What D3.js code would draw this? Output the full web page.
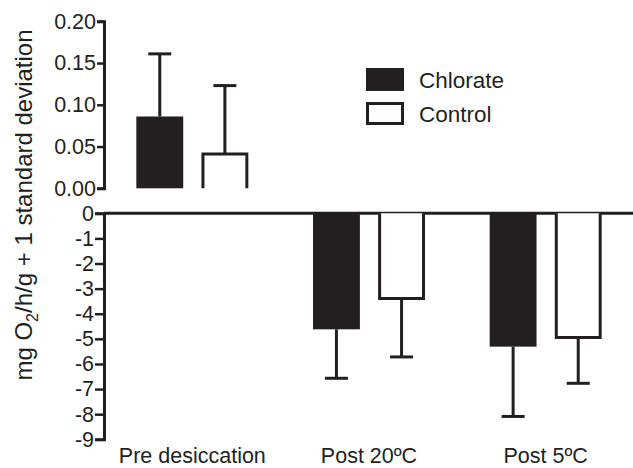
<!DOCTYPE html>
<html>
<head>
<meta charset="utf-8">
<script src="https://cdn.jsdelivr.net/npm/d3@7"></script>
<style>
  body { margin: 0; background: #fff; }
  text { font-family: "Liberation Sans", Arial, sans-serif; fill: #231f20; }
</style>
</head>
<body>
<div id="chart"></div>
<script>
// data
const groups = ["Pre desiccation", "Post 20ºC", "Post 5ºC"];
const series = ["Chlorate", "Control"];
const chlorateMean = [0.086, -4.62, -5.31];
const chlorateSD = [0.075, 1.95, 2.78];
const controlMean = [0.041, -3.39, -4.95];
const controlSD = [0.082, 2.33, 1.82];
const topTicks = [0, 0.05, 0.10, 0.15, 0.20];
const bottomTicks = [0, -1, -2, -3, -4, -5, -6, -7, -8, -9];

const width = 633, height = 468;
const ink = "#231f20";

const svg = d3.select("#chart").append("svg")
    .attr("width", width).attr("height", height);

let rows = [];
groups.forEach((g, i) => {
    rows.push({group: g, series: "Chlorate", mean: chlorateMean[i], sd: chlorateSD[i]});
    rows.push({group: g, series: "Control", mean: controlMean[i], sd: controlSD[i]});
});

let x0 = d3.scaleBand().domain(groups).range([104, 634])
    .paddingInner(0.366).paddingOuter(0.183);
let x1 = d3.scaleBand().domain(series).range([0, x0.bandwidth()]).paddingInner(0.28);

// two panels: positive values on top, negative values below
let yTop = d3.scaleLinear().domain([0, 0.20]).range([188.3, 21.3]);
let yBot = d3.scaleLinear().domain([-9, 0]).range([439.3, 213.3]);

let topAxis = svg.append("g").attr("transform", "translate(104,0)")
    .call(d3.axisLeft(yTop).tickValues(topTicks).tickFormat(d3.format(".2f")).tickSizeOuter(0).tickSize(7).tickPadding(1));
let botAxis = svg.append("g").attr("transform", "translate(104,0)")
    .call(d3.axisLeft(yBot).tickValues(bottomTicks).tickFormat(d3.format("d")).tickSizeOuter(0).tickSize(9).tickPadding(1));

[topAxis, botAxis].forEach(a => {
    a.select(".domain").attr("stroke", ink).attr("stroke-width", 3);
    a.selectAll(".tick line").attr("stroke", ink).attr("stroke-width", 2.5);
    a.selectAll(".tick text").style("font-size", "21.5px").attr("fill", ink)
        .style("font-family", "'Liberation Sans', Arial, sans-serif");
});
// minus sign as plain hyphen
botAxis.selectAll(".tick text").text(d => d3.format("d")(d).replace("−", "-"));

// zero line of bottom panel
svg.append("line")
    .attr("x1", 104).attr("x2", width)
    .attr("y1", yBot(0)).attr("y2", yBot(0))
    .attr("stroke", ink).attr("stroke-width", 3);

let capHalf = 11.5;

rows.forEach(d => {
    let y = d.mean >= 0 ? yTop : yBot;
    let bx = x0(d.group) + x1(d.series);
    let bw = x1.bandwidth();
    let cx = bx + bw / 2;
    let end = d.mean >= 0 ? d.mean + d.sd : d.mean - d.sd;

    // error bar
    svg.append("line")
        .attr("x1", cx).attr("x2", cx)
        .attr("y1", y(d.mean)).attr("y2", y(end))
        .attr("stroke", ink).attr("stroke-width", 3);
    svg.append("line")
        .attr("x1", cx - capHalf).attr("x2", cx + capHalf)
        .attr("y1", y(end)).attr("y2", y(end))
        .attr("stroke", ink).attr("stroke-width", 3);

    let top = Math.min(y(d.mean), y(0));
    let h = Math.abs(y(d.mean) - y(0));
    if (d.series === "Chlorate") {
        svg.append("rect")
            .attr("x", bx).attr("y", top).attr("width", bw).attr("height", h)
            .attr("fill", ink);
    } else {
        // open bar: sides and the far end, no line along zero
        let y0 = y(0), ym = y(d.mean);
        svg.append("path")
            .attr("d", `M${bx + 1.5},${y0} V${ym} H${bx + bw - 1.5} V${y0}`)
            .attr("fill", "#fff").attr("stroke", ink).attr("stroke-width", 3);
    }
});

// category labels
svg.selectAll(".xlab").data(groups).join("text")
    .attr("class", "xlab")
    .attr("x", d => x0(d) + x0.bandwidth() / 2)
    .attr("y", 463)
    .attr("text-anchor", "middle")
    .style("font-size", "21.5px")
    .text(d => d);

// y axis title
let yt = svg.append("text")
    .attr("transform", "translate(32,205) rotate(-90)")
    .attr("text-anchor", "middle")
    .style("font-size", "24px");
yt.append("tspan").text("mg O");
yt.append("tspan").attr("dy", 6).style("font-size", "16px").text("2");
yt.append("tspan").attr("dy", -6).text("/h/g + 1 standard deviation");

// legend
let legend = svg.append("g");
series.forEach((s, i) => {
    let ly = 68 + i * 34;
    if (i === 0) {
        legend.append("rect").attr("x", 366).attr("y", ly).attr("width", 38).attr("height", 23).attr("fill", ink);
    } else {
        legend.append("rect").attr("x", 367.5).attr("y", ly + 1.5).attr("width", 35).attr("height", 20)
            .attr("fill", "#fff").attr("stroke", ink).attr("stroke-width", 3);
    }
    legend.append("text").attr("x", 419).attr("y", ly + 20)
        .style("font-size", "22.5px").text(s);
});
</script>
</body>
</html>
